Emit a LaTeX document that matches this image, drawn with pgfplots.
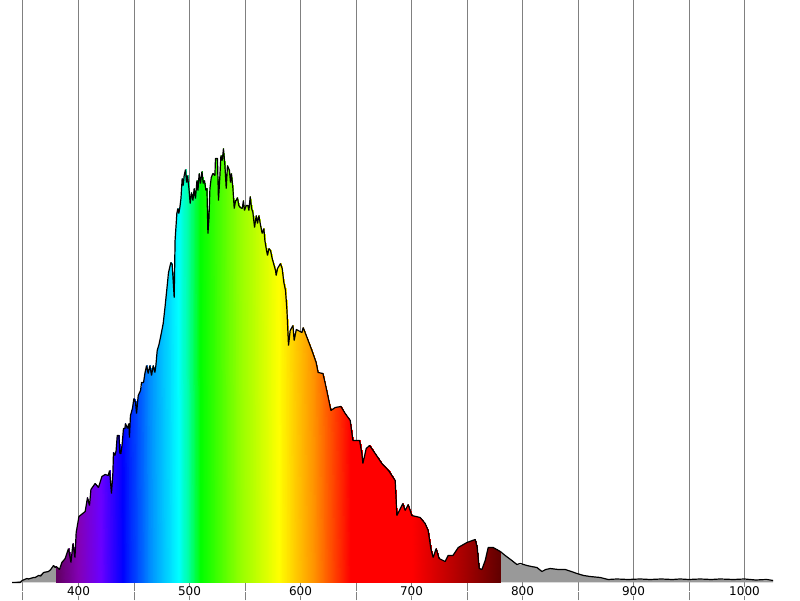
\documentclass[border=0pt]{standalone}
\usepackage{pgfplots}
\usepackage{pgfplotstable}
\usepackage{fontspec}
\setmainfont{DejaVu Sans}
\pgfplotsset{compat=1.18}

% wavelength (nm) and height above the baseline
\pgfplotstableread{
x y
380 16
382.9 13
385 20
388 24
391 34
393.2 20
395 39
396.8 25
397.9 50
400.4 66
406 71
408.1 85
409.9 77
411.2 93
415 99
418 95
421.1 106
424.1 108
426.8 107
428 112
428.6 104
429.7 89
431 110
431.5 130
432.8 127
433.9 132
434.9 147
436.4 147
437.3 129
438.2 129
439.4 139
440.5 154
441.8 154
442.3 159
444.1 154
445.4 159
445.9 145
446.8 167
448.6 174
449.9 184
451.4 180
452.3 169
453.8 187
455.9 192
456.8 200
458.6 200
459.8 209
461.3 217
462.8 209
464.3 217
465.8 207
467.3 217
468.8 210
469.7 217
470.9 232
472.5 238
474.2 247
476.3 259
478.1 277
481.1 310
483.2 320
484.4 318
486.2 285
487 342
488.6 369
489.5 374
490.4 369
491.3 375
492.3 384
493.4 404
494.3 397
495.2 407
496.4 413
497.3 400
498.2 407
499.5 394
500.6 379
501.8 390
503.1 382
504.2 394
505.4 384
506.7 402
507.6 392
508.7 409
509.9 399
511.2 411
512.4 399
513.5 402
514.8 392
515.7 394
516.6 349
517.5 364
518.4 394
519.6 405
521.1 409
522.9 407
523.4 424
525.2 424
526.1 382
527.4 407
528.3 427
529.5 422
530.6 434
531.9 417
533.1 394
534.2 417
536 412
536.9 400
537.8 409
539.1 394
540.3 374
541.5 382
542.1 382
543.2 385
544.4 377
545.7 375
547.5 374
548.6 382
549.5 372
551.1 377
552.6 377
553.5 372
554.7 386
555.9 374
557.1 370
558.6 355
560.1 367
561.3 359
562.5 367
563.7 359
565.5 349
567 354
567.9 342
569.4 332
570.3 327
571.5 334
573 332
574.5 324
577.5 312
578.1 307
579.3 314
582 319
583.5 314
585 300
586.5 292
587.8 272
589.2 237
590.7 252
593.2 257
594.3 242
596.2 253
601.3 250
602.4 255
606.9 242
610.3 232
614.1 220
615.9 210
620.2 209
622.3 199
625 185
627.4 172
631.3 175
636.4 176
640.3 169
644.8 162
647.2 142
653.2 142
655.3 129
656.2 119
659.2 134
662.2 137
667.3 129
673.3 119
679.3 112
685.3 102
686.2 82
686.8 67
690.4 75
692.2 79
694.3 72
697 78
700.3 67
707.8 65
712.3 59
715 52
717.4 34
719.5 25
722.2 34
724.9 24
730.3 21
733 27
737.3 27
742.1 35
749.9 40
757.4 43
759.2 35
761 14
763.4 13
766.4 22
769.1 35
773.6 35
780 31
}\spectrum

% the rainbow mesh has a row on the baseline and a row on the curve
\pgfplotstablecopy{\spectrum}\to\lowrow
\pgfplotstablemodifyeachcolumnelement{y}\of\lowrow\as\cell{\def\cell{0}}
\pgfplotstablevertcat{\meshdata}{\lowrow}
\pgfplotstablevertcat{\meshdata}{\spectrum}

\begin{document}
\begin{tikzpicture}
\begin{axis}[
    scale only axis,
    width=800pt, height=600pt,
    xmin=329.28, xmax=1050,
    ymin=-18, ymax=582,
    clip=true,
    axis line style={draw=none},
    ytick=\empty,
    xtick={400,500,...,1000},
    extra x ticks={350,450,...,950},
    extra x tick labels={},
    major tick length=0pt,
    xmajorgrids=true,
    grid style={color=gray, line width=1pt},
    /pgf/number format/assume math mode=true,
    /pgf/number format/1000 sep={},
    xticklabel style={font=\fontsize{12}{14}\selectfont, anchor=center, yshift=9pt, text=black, fill=white, inner sep=0pt},
    colormap={spectrum}{
        rgb255(380)=(97,0,97)
        rgb255(400)=(131,0,181)
        rgb255(420)=(106,0,255)
        rgb255(440)=(0,0,255)
        rgb255(465)=(0,146,255)
        rgb255(490)=(0,255,255)
        rgb255(500)=(0,255,146)
        rgb255(510)=(0,255,0)
        rgb255(545)=(146,255,0)
        rgb255(580)=(255,255,0)
        rgb255(612)=(255,146,0)
        rgb255(645)=(255,0,0)
        rgb255(700)=(255,0,0)
        rgb255(740)=(181,0,0)
        rgb255(780)=(97,0,0)
    },
    point meta min=380, point meta max=780,
]
% grey tails outside the visible range
\addplot[fill=black!40, draw=none] coordinates {
    (340.3,0)(349.3,2)(353.5,4)(359.5,5)(364,7)(368.5,10)(373,11)(377.5,17)(380,16)(380,0)
} --cycle;
\addplot[fill=black!40, draw=none] coordinates {
    (780,0)(780,31)(784.4,27)(790.4,22)(794.9,18)(804,17)(813,15)(817.5,11)(825,14)
    (838.5,13)(849,9)(860.9,6)(870,5)(877.2,3)(906,3)(942,3)(978,3)(1025.8,2)(1025.8,0)
} --cycle;

% rainbow fill
\addplot[surf, shader=interp, mesh/rows=2, mesh/ordering=x varies, point meta=x]
    table[x=x, y=y] {\meshdata};

% outline
\addplot[black, line width=1.2pt, line join=bevel] table[x=x, y=y] {\spectrum};
\addplot[black, line width=1.2pt, line join=bevel] coordinates {
    (340.3,0)(347.5,0)(349.3,2)(353.5,4)(355,3.5)(359.5,5)(361,5)(364,7)(366,6.5)(368.5,10)(373,11)(375,13)(377.5,17)(379,15)(380,16)
};
\addplot[black, line width=1.2pt, line join=bevel] coordinates {
    (780,31)(784.4,27)(790.4,22)(794.9,18)(798,19)(804,17)(808,16)(813,15)(817.5,11)(821,13)(825,14)
    (832,13)(838.5,13)(844,11)(849,9)(855,7)(860.9,6)(870,5)(877.2,3)(885,3.5)(895,3)(906,3.5)(915,3)
    (925,3.5)(935,3)(942,3.5)(950,3)(960,3.5)(970,3)(978,3.5)(990,3)(1000,3.5)(1010,2.5)(1020,3)(1025.8,2)
};
\end{axis}
\end{tikzpicture}
\end{document}
